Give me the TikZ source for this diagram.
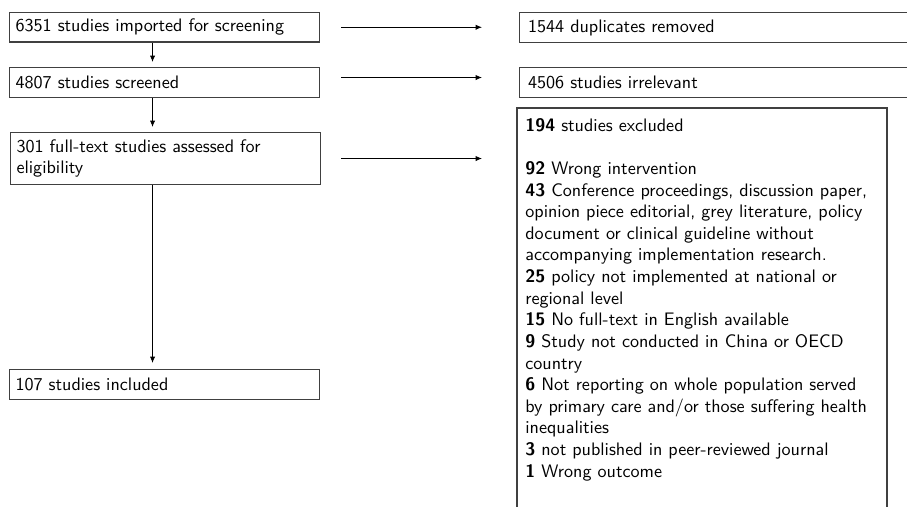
\documentclass[tikz,border=0pt]{standalone}
\usepackage{tikz}
\usetikzlibrary{arrows.meta,calc}
\tikzset{
	flowfont/.style={font=\sffamily\fontsize{10.3}{12.3}\selectfont},
	stagebox/.style={flowfont, draw=black!75, line width=0.6pt, anchor=north west, align=left, text width=#1, inner xsep=0.12cm, inner ysep=0pt},
	dropbox/.style={stagebox=#1, inner xsep=0.17cm},
	flowarrow/.style={line width=0.5pt, -{Latex[length=3.6pt,width=3pt]}},
}

\begin{document}
\begin{tikzpicture}
			%%%%% START %%%%%
			\useasboundingbox (0, 0) rectangle (18.14, -10.14);
			
			\node[stagebox=5.96cm, minimum height=0.59cm] (imported) at (0.18, -0.24) {6351 studies imported for screening};
			\node[stagebox=5.96cm, minimum height=0.6cm] (screened) at (0.18, -1.34) {4807 studies screened};
			\node[stagebox=5.96cm, minimum height=1.04cm] (fulltext) at (0.2, -2.64) {301 full-text studies assessed for\\eligibility};
			\node[stagebox=5.96cm, minimum height=0.6cm] (included) at (0.18, -7.38) {107 studies included};
			
			\node[dropbox=8.06cm, minimum height=0.6cm] (duplicates) at (10.38, -0.24) {1544 duplicates removed};
			\node[dropbox=8.06cm, minimum height=0.6cm] (irrelevant) at (10.38, -1.34) {4506 studies irrelevant};
			
			\node[flowfont, anchor=north west, align=left, text width=7.08cm, inner xsep=0.16cm, inner ysep=0.2cm] (excluded) at (10.34, -2.16) {\textbf{194} studies excluded\\[12.3pt]
				\textbf{92} Wrong intervention\\
				\textbf{43} Conference proceedings, discussion paper,\\
				opinion piece editorial, grey literature, policy\\
				document or clinical guideline without\\
				accompanying implementation research.\\
				\textbf{25} policy not implemented at national or\\
				regional level\\
				\textbf{15} No full-text in English available\\
				\textbf{9} Study not conducted in China or OECD\\
				country\\
				\textbf{6} Not reporting on whole population served\\
				by primary care and/or those suffering health\\
				inequalities\\
				\textbf{3} not published in peer-reviewed journal\\
				\textbf{1} Wrong outcome};
			\draw[draw=black!75, line width=0.6pt] (excluded.north west) rectangle ($(excluded.north west)+(7.4, -8.6)$);
			
			\draw[flowarrow, shorten >=0.1cm] ([xshift=-0.24cm]imported.south) -- ([xshift=-0.24cm]screened.north);
			\draw[flowarrow, shorten >=0.1cm] ([xshift=-0.24cm]screened.south) -- ([xshift=-0.26cm]fulltext.north);
			\draw[flowarrow, shorten >=0.12cm] ([xshift=-0.26cm]fulltext.south) -- ([xshift=-0.24cm]included.north);
			
			\draw[flowarrow, shorten <=0.42cm, shorten >=0.74cm] (imported.east) -- (imported.east -| duplicates.west);
			\draw[flowarrow, shorten <=0.42cm, shorten >=0.74cm] ([yshift=0.1cm]screened.east) -- ([yshift=0.1cm]screened.east -| irrelevant.west);
			\draw[flowarrow, shorten <=0.4cm, shorten >=0.7cm] (fulltext.east) -- (fulltext.east -| excluded.west);
			
			%%%%% END %%%%%
		\end{tikzpicture}
\end{document}
